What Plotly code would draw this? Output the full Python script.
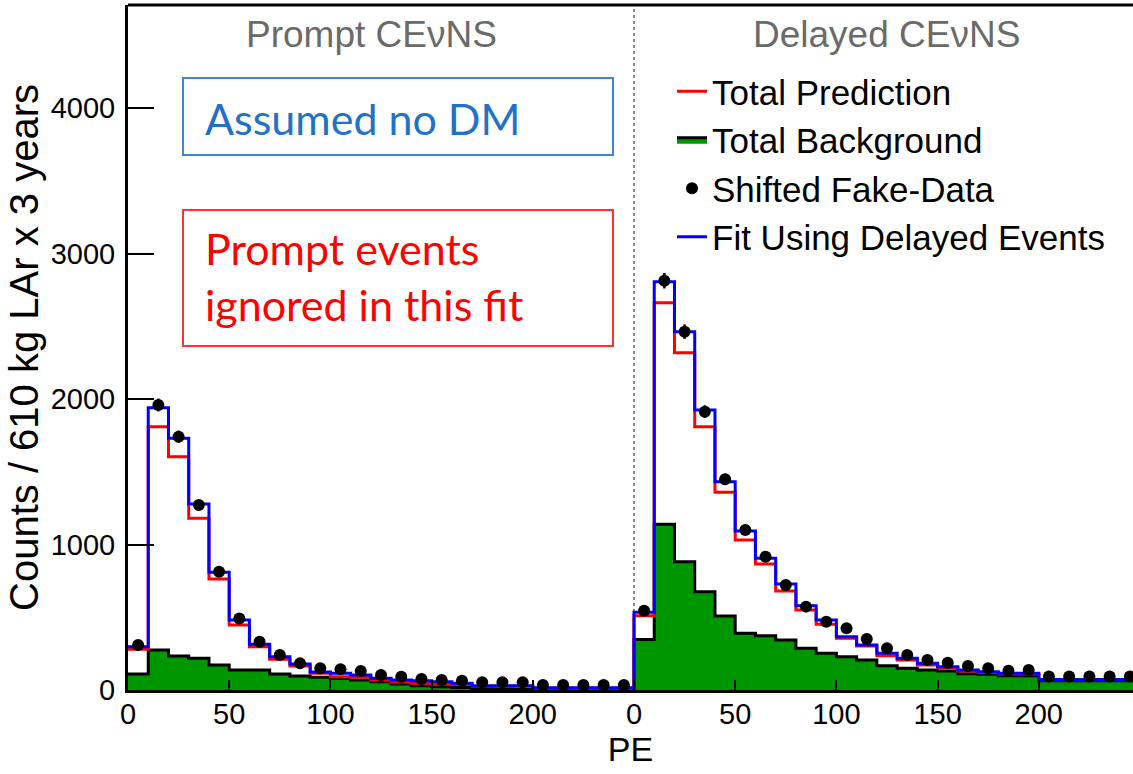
import numpy as np
import plotly.graph_objects as go

# ---------------- data ----------------
bin_width = 10
panel_offset = 250          # delayed panel starts after the 250-PE prompt panel
bin_low = list(range(0, 250, 10))   # lower PE edge of each bin (both panels)

prompt_data = [309, 1959, 1741, 1271, 813, 492, 332, 241, 183, 149, 142, 131, 103, 91, 76,
               69, 64, 53, 53, 53, 35, 35, 35, 35, 35]
prompt_fit = [298, 1940, 1730, 1278, 809, 481, 314, 229, 179, 124, 115, 103, 80, 69, 64,
              57, 46, 30, 30, 30, 15, 15, 15, 15, 15]
prompt_pred = [280, 1810, 1603, 1180, 763, 447, 298, 211, 165, 115, 91, 87, 69, 55, 46,
               45, 38, 25, 25, 25, 12, 12, 12, 12, 12]
prompt_bg = [110, 275, 234, 218, 172, 137, 137, 110, 96, 88, 80, 69, 57, 41, 30,
             22, 18, 10, 8, 6, 4, 4, 4, 4, 4]

delayed_data = [545, 2813, 2463, 1913, 1448, 1100, 916, 722, 573, 469, 424, 351, 287, 241, 206,
                188, 165, 149, 133, 137, 92, 92, 92, 92, 92]
delayed_fit = [534, 2806, 2463, 1924, 1432, 1093, 905, 729, 579, 481, 366, 309, 252, 218, 184,
               160, 137, 126, 115, 115, 73, 73, 73, 73, 73]
delayed_pred = [511, 2662, 2318, 1810, 1359, 1031, 866, 680, 550, 452, 355, 302, 236, 206, 172,
                152, 130, 120, 110, 110, 70, 70, 70, 70, 70]
delayed_bg = [347, 1139, 882, 676, 509, 390, 373, 344, 287, 252, 229, 206, 167, 149, 137,
              130, 112, 108, 98, 98, 64, 64, 64, 64, 64]

tick_vals = [0, 50, 100, 150, 200, 250, 300, 350, 400, 450]
tick_text = ["0", "50", "100", "150", "200", "0", "50", "100", "150", "200"]
y_ticks = [0, 1000, 2000, 3000, 4000]

# ---------------- helpers ----------------
W, H = 1133, 774
ML, MR, MT, MB = 128, 0, 5, 84
PW, PH = W - ML - MR, H - MT - MB


def pxx(p):
    return (p - ML) / PW


def pxy(p):
    return (H - MB - p) / PH


lefts = [b for b in bin_low] + [b + panel_offset for b in bin_low]
edges = lefts + [lefts[-1] + bin_width]
centers = [l + bin_width / 2 for l in lefts]


def steps(vals):
    return vals + [vals[-1]]


bg_all = prompt_bg + delayed_bg
pred_all = prompt_pred + delayed_pred
fit_all = prompt_fit + delayed_fit
data_all = prompt_data + delayed_data

FONT = "Liberation Sans, Arial, Helvetica, sans-serif"

fig = go.Figure()

# drawing order: background, prediction, fit, data ; legend order set by legendrank
fig.add_trace(go.Scatter(
    x=edges, y=steps(bg_all), mode="lines", fill="tozeroy", fillcolor="#009600",
    line=dict(color="black", width=3, shape="hv"), name="Total Background", legendrank=2))
fig.add_trace(go.Scatter(
    x=edges, y=steps(pred_all), mode="lines", line=dict(color="#ff0000", width=3, shape="hv"),
    name="Total Prediction", legendrank=1))
fig.add_trace(go.Scatter(
    x=edges, y=steps(fit_all), mode="lines", line=dict(color="#0000ff", width=3, shape="hv"),
    name="Fit Using Delayed Events", legendrank=4))
fig.add_trace(go.Scatter(
    x=centers, y=data_all, mode="markers",
    marker=dict(color="black", size=12, symbol="circle"),
    error_y=dict(type="data", array=np.sqrt(np.array(data_all)), color="black", thickness=2.5, width=0),
    name="Shifted Fake-Data", legendrank=3))

fig.update_layout(
    width=W, height=H,
    margin=dict(l=ML, r=MR, t=MT, b=MB, autoexpand=False),
    paper_bgcolor="white", plot_bgcolor="white",
    font=dict(family=FONT, color="black"),
    showlegend=True,
    legend=dict(
        x=pxx(672), y=pxy(62), xanchor="left", yanchor="top",
        bgcolor="rgba(0,0,0,0)", font=dict(size=35, family=FONT, color="black"),
        itemwidth=30, tracegroupgap=0,
    ),
)

fig.update_xaxes(
    range=[0, PW / (2.024)], tickvals=tick_vals, ticktext=tick_text,
    ticks="inside", ticklen=10, tickwidth=2, tickcolor="black",
    showline=True, linewidth=3, linecolor="black", showgrid=False, zeroline=False,
    tickfont=dict(size=29, family=FONT, color="black"), ticklabelstandoff=-4,
    title=dict(text="PE", font=dict(size=34, family=FONT, color="black"), standoff=0),
)
fig.update_yaxes(
    range=[0, 4708], tickvals=y_ticks,
    ticks="inside", ticklen=26, tickwidth=2, tickcolor="black",
    showline=True, linewidth=3, linecolor="black", showgrid=False, zeroline=False,
    tickfont=dict(size=29, family=FONT, color="black"), ticklabelstandoff=4,
    title=dict(text="Counts / 610 kg LAr x 3 years", font=dict(size=40, family=FONT, color="black"),
               standoff=0),
)

shapes = [
    # top frame line
    dict(type="line", xref="paper", yref="paper", x0=0, x1=1, y0=1, y1=1,
         line=dict(color="black", width=3)),
    # panel divider
    dict(type="line", xref="x", yref="paper", x0=panel_offset, x1=panel_offset, y0=0, y1=1,
         line=dict(color="#888888", width=2, dash="dot"), layer="below"),
    # info boxes
    dict(type="rect", xref="paper", yref="paper", x0=pxx(183), x1=pxx(613), y0=pxy(155), y1=pxy(78),
         line=dict(color="#3a88d2", width=2)),
    dict(type="rect", xref="paper", yref="paper", x0=pxx(183), x1=pxx(613), y0=pxy(346), y1=pxy(210),
         line=dict(color="#ff3030", width=2)),
]
fig.update_layout(shapes=shapes)

ann = [
    dict(text="Prompt CEνNS", xref="paper", yref="paper", x=pxx(371), y=pxy(35),
         xanchor="center", yanchor="middle", showarrow=False,
         font=dict(size=37, family=FONT, color="#6a6a6a")),
    dict(text="Delayed CEνNS", xref="paper", yref="paper", x=pxx(886), y=pxy(35),
         xanchor="center", yanchor="middle", showarrow=False,
         font=dict(size=37, family=FONT, color="#6a6a6a")),
    dict(text="Assumed no DM", xref="paper", yref="paper", x=pxx(203), y=pxy(118),
         xanchor="left", yanchor="middle", showarrow=False,
         font=dict(size=43, family="Lato, Carlito, sans-serif", color="#1f72c8")),
    dict(text="Prompt events<br>ignored in this fit", xref="paper", yref="paper", x=pxx(203), y=pxy(276),
         xanchor="left", yanchor="middle", align="left", showarrow=False,
         font=dict(size=43, family="Lato, Carlito, sans-serif", color="#ff0000")),
]
fig.update_layout(annotations=ann)

fig.write_html("out.html")
